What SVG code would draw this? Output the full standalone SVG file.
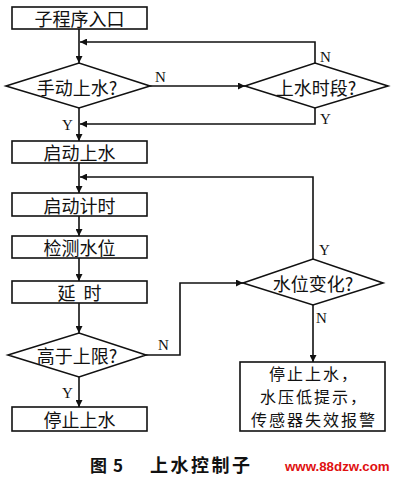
<svg xmlns="http://www.w3.org/2000/svg" width="400" height="485" viewBox="0 0 400 485">
<defs>
<marker id="arr" viewBox="0 0 10 10" refX="10" refY="5" markerWidth="8" markerHeight="7" markerUnits="userSpaceOnUse" orient="auto"><path d="M0,0 L10,5 L0,10 Z" fill="#111"/></marker>
<style>
.box{fill:#fff;stroke:#111;stroke-width:1.6}
.t{font-family:"Noto Sans CJK SC","Noto Sans CJK JP",sans-serif;font-size:18px;fill:#111;text-anchor:middle;dominant-baseline:central}
.t2{font-family:"Noto Sans CJK SC","Noto Sans CJK JP",sans-serif;font-size:16px;letter-spacing:2px;fill:#111;text-anchor:middle;dominant-baseline:central}
.lbl{font-family:"Liberation Serif",serif;font-size:15px;fill:#111}
.c{fill:none;stroke:#111;stroke-width:1.6;marker-end:url(#arr)}
</style>
</defs>
<rect width="400" height="485" fill="#fff"/>
<g id="connectors">
<path class="c" d="M79,29 V63"/>
<path class="c" d="M315,63 V42 H80"/>
<path class="c" d="M150,86 H245"/>
<path class="c" d="M315,108 V124 H80"/>
<path class="c" d="M79,108 V141"/>
<path class="c" d="M79,163 V193"/>
<path class="c" d="M313,259 V177 H80"/>
<path class="c" d="M79,216 V236"/>
<path class="c" d="M79,258 V281"/>
<path class="c" d="M79,303 V333"/>
<path class="c" d="M146,355 H180 V283 H243"/>
<path class="c" d="M313,305 V362"/>
<path class="c" d="M79,377 V407"/>
</g>
<g id="labels">
<text class="lbl" x="155" y="82">N</text>
<text class="lbl" x="62" y="130">Y</text>
<text class="lbl" x="320" y="62">N</text>
<text class="lbl" x="320" y="124">Y</text>
<text class="lbl" x="319" y="255">Y</text>
<text class="lbl" x="316" y="323">N</text>
<text class="lbl" x="158" y="350">N</text>
<text class="lbl" x="62" y="398">Y</text>
</g>
<g id="entry"><rect class="box" x="12" y="7" width="135" height="22"/><text class="t" x="79.5" y="18">子程序入口</text></g>
<g id="manual"><polygon class="box" points="6,86 79,63 150,86 79,108"/><text class="t" x="77" y="87">手动上水?</text></g>
<g id="period"><polygon class="box" points="245,86 315,63 388,86 315,108"/><text class="t" x="316" y="87">上水时段?</text></g>
<g id="start"><rect class="box" x="12" y="141" width="135" height="22"/><text class="t" x="79.5" y="152">启动上水</text></g>
<g id="timer"><rect class="box" x="12" y="193" width="135" height="23"/><text class="t" x="79.5" y="204.5">启动计时</text></g>
<g id="detect"><rect class="box" x="12" y="236" width="135" height="22"/><text class="t" x="79.5" y="247">检测水位</text></g>
<g id="delay"><rect class="box" x="12" y="281" width="135" height="22"/><text class="t" x="79.5" y="292" xml:space="preserve">延  时</text></g>
<g id="upper"><polygon class="box" points="8,355 79,333 146,355 79,377"/><text class="t" x="77" y="355">高于上限?</text></g>
<g id="stop"><rect class="box" x="12" y="407" width="135" height="24"/><text class="t" x="79.5" y="419">停止上水</text></g>
<g id="change"><polygon class="box" points="243,283 313,259 383,283 313,305"/><text class="t" x="313" y="283">水位变化?</text></g>
<g id="alarm"><rect class="box" x="240" y="362" width="145" height="69"/>
<text class="t2" x="314" y="373">停止上水，</text>
<text class="t2" x="314" y="396">水压低提示，</text>
<text class="t2" x="314" y="419">传感器失效报警</text></g>
<g id="caption">
<text x="90" y="472" font-family="Noto Sans CJK SC,sans-serif" font-weight="bold" font-size="17" fill="#111">图<tspan dx="6">5</tspan></text>
<text x="150" y="472" font-family="Noto Sans CJK SC,sans-serif" font-weight="bold" font-size="18" fill="#111" textLength="100" lengthAdjust="spacing">上水控制子</text>
<text x="285" y="471" font-family="Liberation Sans,Arial,sans-serif" font-weight="bold" font-size="13.3" fill="#e01010">www.88dzw.com</text>
</g>
</svg>
